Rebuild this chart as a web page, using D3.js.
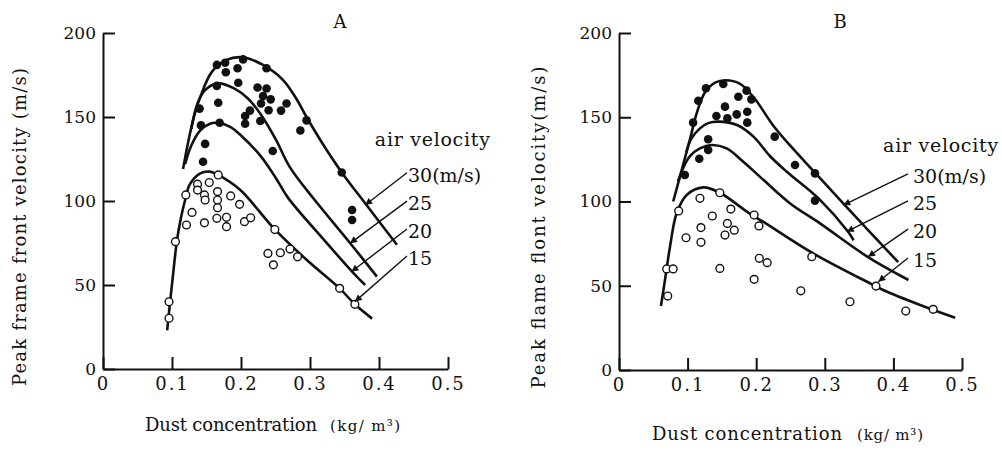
<!DOCTYPE html>
<html>
<head>
<meta charset="utf-8">
<script src="https://cdn.jsdelivr.net/npm/d3@7"></script>
<style>
  body { margin: 0; background: #fff; }
  text { font-family: "DejaVu Serif", serif; fill: #111; }
</style>
</head>
<body>
<div id="chart"></div>
<script>
// axis ticks, shared by both panels
var xTicks = [0, 0.1, 0.2, 0.3, 0.4, 0.5];
var yTicks = [0, 50, 100, 150, 200];
var velocityLabels = ["30(m/s)", "25", "20", "15"];

// panel A : fitted curves [dust concentration, velocity]
var curveA30 = [[0.116,119],[0.121,130],[0.126,140],[0.133,152],[0.141,162],[0.158,177],[0.179,184],[0.203,185.5],[0.232,181],[0.261,172],[0.28,161],[0.295,150],[0.32,133],[0.346,117],[0.383,97],[0.426,74]];
var curveA25 = [[0.128,143],[0.137,158],[0.148,166],[0.167,170],[0.19,167],[0.21,161],[0.228,152],[0.25,137],[0.271,120],[0.306,101],[0.358,75],[0.397,55]];
var curveA20 = [[0.119,122],[0.128,133],[0.141,142],[0.155,146],[0.167,146.5],[0.185,144],[0.2,139],[0.228,127],[0.25,114],[0.268,102],[0.32,77],[0.361,58],[0.38,50]];
var curveA15 = [[0.093,23],[0.097,39],[0.102,58],[0.107,76],[0.113,90],[0.119,100.6],[0.126,110],[0.141,116.5],[0.155,117.5],[0.167,115.5],[0.199,106.5],[0.247,84],[0.295,65],[0.343,48],[0.365,38.5],[0.39,30]];

// panel A : measured points
var filledA = [[0.165,181],[0.177,182.3],[0.178,176.6],[0.195,179],[0.203,184.3],[0.237,179],[0.196,170.4],[0.165,168.5],[0.167,158.5],[0.14,155],[0.142,145],[0.169,146.6],[0.148,134],[0.145,123.4],[0.224,167.6],[0.237,167],[0.232,162.5],[0.243,160.5],[0.229,158],[0.24,154],[0.266,158],[0.258,153.8],[0.213,153.8],[0.206,150.6],[0.206,146],[0.228,147.6],[0.286,142],[0.295,148],[0.246,129.8],[0.346,117],[0.361,94.6],[0.361,88.7]];
var openA = [[0.0957,40],[0.0957,30.2],[0.105,75.8],[0.12,103.6],[0.121,85.7],[0.129,93.2],[0.137,110],[0.137,106.5],[0.147,103.6],[0.148,100.6],[0.154,111],[0.147,87],[0.167,115.5],[0.166,105.6],[0.166,100.6],[0.166,96],[0.165,89.7],[0.179,90.3],[0.179,84.7],[0.185,103],[0.198,98],[0.205,87.7],[0.214,90],[0.249,83],[0.239,68.8],[0.247,62],[0.257,69.2],[0.271,71.4],[0.282,66.8],[0.343,48],[0.365,38.5]];

// panel B : fitted curves
var curveB30 = [[0.079,100],[0.091,118],[0.1035,137],[0.113,152],[0.125,164.5],[0.14,170.5],[0.155,172],[0.176,170],[0.196,162],[0.225,145],[0.25,133],[0.286,117],[0.3265,99],[0.407,64]];
var curveB25 = [[0.098,129],[0.105,137],[0.118,143.4],[0.13,146.5],[0.145,147.4],[0.172,145.4],[0.196,138.5],[0.22,127],[0.245,117.5],[0.293,101],[0.334,82],[0.342,77]];
var curveB20 = [[0.086,112],[0.096,122],[0.1035,127],[0.118,131.5],[0.135,133.5],[0.157,131.5],[0.18,124],[0.21,113],[0.249,99],[0.293,87],[0.363,67],[0.422,53.4]];
var curveB15 = [[0.0612,38],[0.067,53.4],[0.0743,73],[0.084,93],[0.0987,103.9],[0.123,108.4],[0.147,105.2],[0.1885,93.4],[0.21,88],[0.283,69.2],[0.366,51.4],[0.385,47.5],[0.439,38.6],[0.49,31]];

// panel B : measured points
var filledB = [[0.1268,167.2],[0.1156,159.8],[0.152,169.7],[0.186,165.8],[0.193,160.6],[0.174,162.2],[0.1545,156.3],[0.108,146.8],[0.142,150.7],[0.158,149.4],[0.1716,151.7],[0.187,153.3],[0.187,146.8],[0.13,136.9],[0.13,130.6],[0.117,125.4],[0.096,115.7],[0.227,138.5],[0.2566,121.7],[0.2857,116.7],[0.2857,100.5]];
var openB = [[0.0695,60],[0.079,60],[0.071,43.9],[0.087,94.4],[0.0977,78.5],[0.118,101.9],[0.1195,84.5],[0.1195,75.8],[0.136,91.4],[0.147,105.2],[0.147,60.3],[0.158,87],[0.1545,80.1],[0.163,95.5],[0.168,83],[0.197,92],[0.204,85.5],[0.197,53.8],[0.2045,66.3],[0.216,63.7],[0.281,67.2],[0.265,47],[0.3367,40.5],[0.3746,49.8],[0.418,35],[0.458,36]];

// legend anchors (label position and arrow target, in data units)
var legendA = [[0.442,111.5,0.380,97.6],[0.442,94.6,0.358,74.8],[0.442,78,0.360,57.9],[0.442,61.9,0.365,40.1]];
var legendB = [[0.4286,111,0.327,97.9],[0.4286,95,0.332,82.1],[0.4286,78.3,0.363,67.2],[0.4286,61.1,0.378,52.4]];

var panels = [
  { title: "A", left: 103, right: 448, top: 33, bottom: 369, titleX: 340,
    yLabel: "Peak frame front velocity (m/s)", yLabelX: 26, yLabelLen: 318, xLabelY: 431,
    xLabelA: [145, 172], xLabelB: [330, 70], airAt: [0.394, 132.7], arrowDx: 1,
    curves: [curveA30, curveA25, curveA20, curveA15], filled: filledA, open: openA, legend: legendA },
  { title: "B", left: 619, right: 962, top: 33, bottom: 370, titleX: 840,
    yLabel: "Peak flame flont velocity(m/s)", yLabelX: 545, yLabelLen: 322, xLabelY: 440,
    xLabelA: [652, 190], xLabelB: [857, 66], airAt: [0.385, 129.6], arrowDx: 5,
    curves: [curveB30, curveB25, curveB20, curveB15], filled: filledB, open: openB, legend: legendB }
];

var svg = d3.select("#chart")
  .append("svg")
  .attr("width", 1002)
  .attr("height", 451)
  .style("background", "#fff");

svg.append("defs").append("marker")
  .attr("id", "arrow")
  .attr("viewBox", "0 0 10 10")
  .attr("refX", 10).attr("refY", 5)
  .attr("markerWidth", 9).attr("markerHeight", 7)
  .attr("markerUnits", "userSpaceOnUse")
  .attr("orient", "auto")
  .append("path")
  .attr("d", "M0,0 L10,5 L0,10 z")
  .attr("fill", "#111");

function fmtX(d) { return d === 0 ? "0" : d.toFixed(1); }

panels.forEach(function(p) {
  var x = d3.scaleLinear().domain([0, 0.5]).range([p.left, p.right]);
  var y = d3.scaleLinear().domain([0, 200]).range([p.bottom, p.top]);
  var g = svg.append("g");

  // x axis, ticks pointing inward
  var gx = g.append("g")
    .attr("transform", "translate(0," + p.bottom + ")")
    .call(d3.axisBottom(x).tickValues(xTicks).tickSizeInner(-12).tickSizeOuter(0).tickPadding(8).tickFormat(fmtX));
  gx.selectAll("text").style("font-size", "18px").style("letter-spacing", "2px").attr("fill", "#111");

  // y axis
  var gy = g.append("g")
    .attr("transform", "translate(" + p.left + ",0)")
    .call(d3.axisLeft(y).tickValues(yTicks).tickSizeInner(-12).tickSizeOuter(0).tickPadding(7));
  gy.selectAll("text").style("font-size", "17px").attr("fill", "#111");

  g.selectAll(".domain, .tick line").attr("stroke", "#111").attr("stroke-width", 2);

  // panel title
  g.append("text").attr("x", p.titleX).attr("y", 28)
    .attr("text-anchor", "middle").style("font-size", "18px").text(p.title);

  // axis titles
  g.append("text")
    .attr("transform", "translate(" + p.yLabelX + "," + ((p.top + p.bottom) / 2 + 26) + ") rotate(-90)")
    .attr("text-anchor", "middle")
    .attr("textLength", p.yLabelLen).attr("lengthAdjust", "spacing")
    .style("font-size", "18px")
    .text(p.yLabel);

  g.append("text").attr("x", p.xLabelA[0]).attr("y", p.xLabelY)
    .attr("textLength", p.xLabelA[1]).attr("lengthAdjust", "spacing")
    .style("font-size", "18px").text("Dust concentration");
  g.append("text").attr("x", p.xLabelB[0]).attr("y", p.xLabelY)
    .attr("textLength", p.xLabelB[1]).attr("lengthAdjust", "spacing")
    .style("font-size", "15px").text("(kg/ m\u00b3)");

  // fitted curves
  var line = d3.line()
    .x(function(d) { return x(d[0]); })
    .y(function(d) { return y(d[1]); })
    .curve(d3.curveCatmullRom.alpha(0.5));

  g.selectAll(".curve")
    .data(p.curves)
    .join("path")
    .attr("fill", "none")
    .attr("stroke", "#111")
    .attr("stroke-width", 2.6)
    .attr("d", line);

  // measured points
  g.selectAll(".dot")
    .data(p.filled)
    .join("circle")
    .attr("cx", function(d) { return x(d[0]); })
    .attr("cy", function(d) { return y(d[1]); })
    .attr("r", 4.3)
    .attr("fill", "#111");

  g.selectAll(".ring")
    .data(p.open)
    .join("circle")
    .attr("cx", function(d) { return x(d[0]); })
    .attr("cy", function(d) { return y(d[1]); })
    .attr("r", 3.9)
    .attr("fill", "#fff")
    .attr("stroke", "#111")
    .attr("stroke-width", 1.4);

  // legend: air velocity labels with arrows
  g.append("text").attr("x", x(p.airAt[0])).attr("y", y(p.airAt[1]))
    .attr("textLength", 115).attr("lengthAdjust", "spacing")
    .style("font-size", "19px").text("air velocity");

  p.legend.forEach(function(d, i) {
    g.append("text").attr("x", x(d[0])).attr("y", y(d[1]))
      .style("font-size", "19px").text(velocityLabels[i]);
    g.append("line")
      .attr("x1", x(d[0]) - p.arrowDx).attr("y1", y(d[1]) - 9)
      .attr("x2", x(d[2])).attr("y2", y(d[3]))
      .attr("stroke", "#111").attr("stroke-width", 1.4)
      .attr("marker-end", "url(#arrow)");
  });
});
</script>
</body>
</html>
